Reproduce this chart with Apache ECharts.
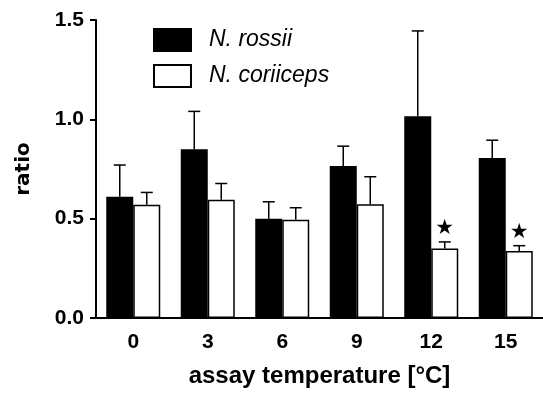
<!DOCTYPE html>
<html>
<head>
<meta charset="utf-8">
<title>ratio vs assay temperature</title>
<script src="https://cdn.jsdelivr.net/npm/echarts@6/dist/echarts.min.js"></script>
<style>
  html, body { margin: 0; padding: 0; background: #fff; }
  #main { width: 543px; height: 396px; }
</style>
</head>
<body>
<div id="main"></div>
<script>
// data
var temps = ['0', '3', '6', '9', '12', '15'];
var rossii = [0.61, 0.85, 0.50, 0.765, 1.015, 0.805];
var rossiiErr = [0.16, 0.19, 0.085, 0.10, 0.43, 0.09];
var coriiceps = [0.57, 0.595, 0.495, 0.573, 0.35, 0.337];
var coriicepsErr = [0.062, 0.082, 0.06, 0.138, 0.033, 0.027];
var significant = [false, false, false, false, true, true];

var barW = 27;
var font = 'Liberation Sans, Arial, sans-serif';

// error bar (upper only) + optional star
function errorSeries(name, vals, errs, offset, stars) {
  return {
    type: 'custom',
    name: name + ' err',
    z: 1,
    silent: true,
    data: vals.map(function (v, i) { return [i, v, v + errs[i], stars ? (stars[i] ? 1 : 0) : 0]; }),
    renderItem: function (params, api) {
      var base = api.coord([api.value(0), api.value(1)]);
      var top = api.coord([api.value(0), api.value(2)]);
      var x = base[0] + offset;
      var cap = 6;
      var children = [
        { type: 'line', shape: { x1: x, y1: base[1], x2: x, y2: top[1] }, style: { stroke: '#000', lineWidth: 1.5 } },
        { type: 'line', shape: { x1: x - cap, y1: top[1], x2: x + cap, y2: top[1] }, style: { stroke: '#000', lineWidth: 1.5 } }
      ];
      if (api.value(3)) {
        children.push({
          type: 'text',
          style: { text: '\u2605', x: x, y: top[1] - 3, align: 'center', verticalAlign: 'bottom',
                   font: '21px DejaVu Sans', fill: '#000' }
        });
      }
      return { type: 'group', children: children };
    }
  };
}

var chart = echarts.init(document.getElementById('main'));
chart.setOption({
  animation: false,
  grid: { left: 96, right: -3, top: 20, bottom: 78 },
  legend: {
    orient: 'vertical',
    left: 148, top: 23,
    icon: 'rect',
    itemWidth: 37, itemHeight: 22, itemGap: 12,
    data: ['N. rossii', 'N. coriiceps'],
    textStyle: { fontFamily: font, fontStyle: 'italic', fontSize: 23, lineHeight: 22, color: '#000', padding: [0, 0, 0, 13] }
  },
  xAxis: {
    type: 'category',
    data: temps,
    name: 'assay temperature [\u00b0C]',
    nameLocation: 'middle',
    nameGap: 46,
    nameTextStyle: { fontFamily: font, fontWeight: 'bold', fontSize: 24, color: '#000' },
    axisLine: { lineStyle: { color: '#000', width: 2 } },
    axisTick: { alignWithLabel: true, length: 6, lineStyle: { color: '#000', width: 2 } },
    axisLabel: { margin: 14, fontFamily: font, fontWeight: 'bold', fontSize: 21, color: '#000' }
  },
  yAxis: {
    type: 'value',
    min: 0, max: 1.5, interval: 0.5,
    name: 'ratio',
    nameLocation: 'middle',
    nameGap: 62,
    nameTextStyle: { fontFamily: 'DejaVu Sans', fontWeight: 'bold', fontSize: 20, color: '#000' },
    splitLine: { show: false },
    axisLine: { show: true, lineStyle: { color: '#000', width: 2 } },
    axisTick: { show: true, length: 6, lineStyle: { color: '#000', width: 2 } },
    axisLabel: { margin: 12, fontFamily: font, fontWeight: 'bold', fontSize: 21, color: '#000',
                 formatter: function (v) { return v.toFixed(1); } }
  },
  series: [
    {
      type: 'bar', name: 'N. rossii', data: rossii,
      barWidth: barW, barGap: '0%', z: 2,
      itemStyle: { color: '#000', borderColor: '#000', borderWidth: 1.5 }
    },
    {
      type: 'bar', name: 'N. coriiceps', data: coriiceps,
      barWidth: barW, barGap: '0%', z: 2,
      itemStyle: { color: '#fff', borderColor: '#000', borderWidth: 1.5 }
    },
    errorSeries('N. rossii', rossii, rossiiErr, -barW / 2, null),
    errorSeries('N. coriiceps', coriiceps, coriicepsErr, barW / 2, significant)
  ]
});
</script>
</body>
</html>
